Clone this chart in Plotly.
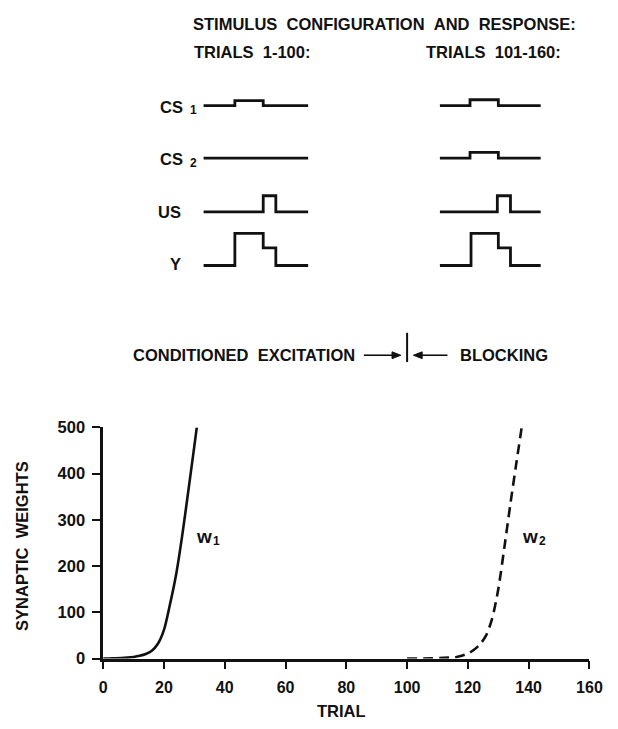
import plotly.graph_objects as go

W, H = 618, 729

# ---------------- data ----------------
trial_ticks = [0, 20, 40, 60, 80, 100, 120, 140, 160]
weight_ticks = [0, 100, 200, 300, 400, 500]

w1_trial = [0, 2, 4, 6, 8, 10, 12, 14, 16, 18, 20, 22, 24, 26, 28, 30, 30.8]
w1_value = [0, 0.2, 0.5, 1, 2, 3.5, 6, 10, 17, 32, 62, 118, 182, 266, 362, 460, 500]

w2_trial = [100, 108, 112, 116, 118, 120, 122, 124, 126, 128, 130, 132, 134, 136, 137.7]
w2_value = [0, 0.5, 1.5, 3, 6, 11, 19, 31, 50, 87, 150, 240, 335, 425, 500]

block_boundary_trial = 100

# stimulus schematics (time in arbitrary units 0-100, level 0-1), step shaped
row_names = ["CS", "CS", "US", "Y"]
row_subs = ["1", "2", "", ""]
left_t = [[0, 30, 57, 100], [0, 100], [0, 57, 69, 100], [0, 30, 57, 69, 100]]
left_v = [[0, 0.15, 0, 0], [0, 0], [0, 0.5, 0, 0], [0, 1, 0.55, 0, 0]]
right_t = [[0, 30, 58, 100], [0, 30, 58, 100], [0, 57, 70, 100], [0, 31, 58, 70, 100]]
right_v = [[0, 0.18, 0, 0], [0, 0.18, 0, 0], [0, 0.5, 0, 0], [0, 1, 0.55, 0, 0]]

# ---------------- layout helpers ----------------
def px_x(p):
    return p / W


def px_y(p):
    return 1 - p / H


FONT = "Liberation Sans"
BLACK = "#111111"

fig = go.Figure()

# main curves
fig.add_trace(go.Scatter(x=w1_trial, y=w1_value, mode="lines",
                         line=dict(color=BLACK, width=2.6, shape="spline", smoothing=0.8),
                         showlegend=False, hoverinfo="skip"))
fig.add_trace(go.Scatter(x=w2_trial, y=w2_value, mode="lines",
                         line=dict(color=BLACK, width=2.6, shape="spline", smoothing=0.8,
                                   dash="10px,6px"),
                         showlegend=False, hoverinfo="skip"))

layout = dict(
    width=W, height=H,
    margin=dict(l=0, r=0, t=0, b=0),
    paper_bgcolor="white", plot_bgcolor="white",
    showlegend=False,
    font=dict(family=FONT, color=BLACK, size=16, weight="bold"),
    xaxis=dict(domain=[px_x(102), px_x(602)], range=[0, 160], tickvals=trial_ticks,
               ticks="outside", ticklen=8, tickwidth=2, tickcolor=BLACK,
               showline=True, linewidth=2.5, linecolor=BLACK,
               showgrid=False, zeroline=False, ticklabelstandoff=4,
               tickfont=dict(family=FONT, size=16, color=BLACK, weight="bold"),
               anchor="y"),
    yaxis=dict(domain=[px_y(666), px_y(429)], range=[0, 500], tickvals=weight_ticks,
               ticks="outside", ticklen=8, tickwidth=2, tickcolor=BLACK,
               showline=True, linewidth=2.5, linecolor=BLACK,
               showgrid=False, zeroline=False, ticklabelstandoff=4,
               tickfont=dict(family=FONT, size=16.5, color=BLACK, weight="bold"),
               anchor="x"),
)

# stimulus schematic subplots
row_base = [99, 153, 208, 263]
cols = [(205, 313, left_t, left_v), (448, 552, right_t, right_v)]
unit = 33.0
k = 2
for ci, (x0, x1, tt, vv) in enumerate(cols):
    for ri in range(4):
        base = row_base[ri]
        layout["xaxis%d" % k] = dict(domain=[px_x(x0), px_x(x1)], range=[0, 100],
                                     visible=False, anchor="y%d" % k)
        layout["yaxis%d" % k] = dict(domain=[px_y(base + 0.25 * unit), px_y(base - 1.25 * unit)],
                                     range=[-0.25, 1.25], visible=False, anchor="x%d" % k)
        fig.add_trace(go.Scatter(x=tt[ri], y=vv[ri], mode="lines", xaxis="x%d" % k, yaxis="y%d" % k,
                                 line=dict(color=BLACK, width=2.8, shape="hv"),
                                 showlegend=False, hoverinfo="skip"))
        k += 1

fig.update_layout(**layout)

NB = "\u00a0\u00a0"
ann = []


def text(t, x, y, xanchor="left", size=16.5, angle=0, xref="paper", yref="paper"):
    ann.append(dict(text=t,
                    x=px_x(x) if xref == "paper" else x,
                    y=px_y(y) if yref == "paper" else y,
                    xref=xref, yref=yref,
                    xanchor=xanchor, yanchor="middle", showarrow=False, textangle=angle,
                    font=dict(family=FONT, size=size, color=BLACK, weight="bold")))


text("STIMULUS" + NB + "CONFIGURATION" + NB + "AND" + NB + "RESPONSE:", 192, 15)
text("TRIALS" + NB + "1-100:", 193, 44)
text("TRIALS" + NB + "101-160:", 432, 44)
label_right = [186, 186, 184, 184]
label_y = [100, 154, 208, 261]
for name, sub, xr, yy in zip(row_names, row_subs, label_right, label_y):
    text(name, xr, yy, xanchor="right")
    if sub:
        text(sub, xr + 3, yy + 4, xanchor="left", size=12)

text("CONDITIONED" + NB + "EXCITATION", 363, 355, xanchor="right")
text("BLOCKING", 467, 355)
text("TRIAL", 347, 720, xanchor="center")
text("SYNAPTIC" + NB + "WEIGHTS", 19, 550, xanchor="center", angle=-90)

# curve labels (letter + separate subscript digit)
text("w", 30, 265, xanchor="left", size=19, xref="x", yref="y")
text("1", 35.6, 255, xanchor="left", size=12, xref="x", yref="y")
text("w", 137.3, 265, xanchor="left", size=19, xref="x", yref="y")
text("2", 142.9, 255, xanchor="left", size=12, xref="x", yref="y")

fig.update_layout(annotations=ann)

# arrows toward the boundary (drawn as shapes)
ay = px_y(355)
hh = 3.5 / H
fig.add_shape(type="line", xref="paper", yref="paper", x0=px_x(370), x1=px_x(401), y0=ay, y1=ay,
              line=dict(color=BLACK, width=1.6))
fig.add_shape(type="path", xref="paper", yref="paper",
              path="M %f %f L %f %f L %f %f Z" % (px_x(408), ay, px_x(399), ay + hh, px_x(399), ay - hh),
              fillcolor=BLACK, line=dict(color=BLACK, width=1))
fig.add_shape(type="line", xref="paper", yref="paper", x0=px_x(428), x1=px_x(456), y0=ay, y1=ay,
              line=dict(color=BLACK, width=1.6))
fig.add_shape(type="path", xref="paper", yref="paper",
              path="M %f %f L %f %f L %f %f Z" % (px_x(421), ay, px_x(430), ay + hh, px_x(430), ay - hh),
              fillcolor=BLACK, line=dict(color=BLACK, width=1))
fig.add_shape(type="line", x0=block_boundary_trial, x1=block_boundary_trial, xref="x",
              y0=px_y(332), y1=px_y(362), yref="paper", line=dict(color=BLACK, width=2))

fig.write_html("out.html")
